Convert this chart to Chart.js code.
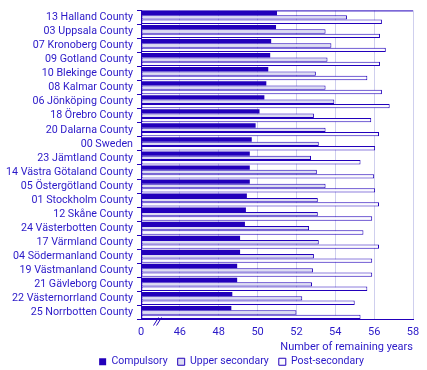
<!DOCTYPE html>
<html><head><meta charset="utf-8">
<script src="https://cdn.jsdelivr.net/npm/chart.js@4/dist/chart.umd.min.js"></script>
<style>html,body{margin:0;padding:0;background:#fff}#wrap{width:427px;height:370px}</style>
</head><body><div id="wrap"><canvas id="c" width="427" height="370"></canvas></div>
<script>
const categories = ["13 Halland County","03 Uppsala County","07 Kronoberg County","09 Gotland County","10 Blekinge County","08 Kalmar County","06 Jönköping County","18 Örebro County","20 Dalarna County","00 Sweden","23 Jämtland County","14 Västra Götaland County","05 Östergötland County","01 Stockholm County","12 Skåne County","24 Västerbotten County","17 Värmland County","04 Södermanland County","19 Västmanland County","21 Gävleborg County","22 Västernorrland County","25 Norrbotten County"];
const compulsory = [51.0,50.95,50.7,50.65,50.55,50.45,50.35,50.1,49.9,49.7,49.6,49.6,49.6,49.45,49.4,49.35,49.1,49.1,48.95,48.95,48.7,48.65];
const upperSecondary = [54.6,53.5,53.8,53.6,53.0,53.5,53.95,52.9,53.5,53.15,52.75,53.05,53.5,53.1,53.1,52.65,53.15,52.9,52.85,52.8,52.3,52.0];
const postSecondary = [56.4,56.3,56.6,56.3,55.65,56.4,56.8,55.85,56.25,56.05,55.3,56.0,56.05,56.25,55.9,55.45,56.25,55.9,55.9,55.65,55.0,55.3];
const seriesNames = ["Compulsory","Upper secondary","Post-secondary"];
const axisMin = 44, axisMax = 58, axisStep = 2;
const breakLabel = "0";
const xTitle = "Number of remaining years";

const BLUE = '#2200BB';
const TXT = '#2a18c8';
const GRID = '#cfcfee';

const framePlugin = {
  id: 'frame',
  afterLayout(chart) {
    const lg = chart.legend;
    if (lg) { lg.left += 25; lg.right += 25; }
  },
  afterDraw(chart) {
    const {ctx, chartArea: a, scales: {x}} = chart;
    ctx.save();
    ctx.strokeStyle = BLUE; ctx.lineWidth = 1;
    ctx.beginPath(); ctx.moveTo(a.left, a.top + 0.5); ctx.lineTo(a.right, a.top + 0.5); ctx.stroke();
    const bx = x.getPixelForValue(axisMin + 0.85);
    const by = a.bottom;
    for (const d of [-1.5, 1.5]) {
      ctx.beginPath(); ctx.moveTo(bx + d - 2.5, by + 6); ctx.lineTo(bx + d + 2.5, by - 2); ctx.stroke();
    }
    ctx.restore();
  }
};

new Chart(document.getElementById('c'), {
  type: 'bar',
  data: {
    labels: categories,
    datasets: [
      {label: seriesNames[0], data: compulsory, base: axisMin, backgroundColor: BLUE, borderColor: BLUE, borderWidth: 0},
      {label: seriesNames[1], data: upperSecondary, base: axisMin, backgroundColor: '#dcdcf2', borderColor: BLUE, borderWidth: 1, borderSkipped: false},
      {label: seriesNames[2], data: postSecondary, base: axisMin, backgroundColor: '#fbfbff', borderColor: BLUE, borderWidth: 1, borderSkipped: false}
    ]
  },
  options: {
    indexAxis: 'y',
    responsive: false,
    animation: false,
    devicePixelRatio: 1,
    categoryPercentage: 0.93,
    barPercentage: 1.0,
    layout: {padding: {top: 8, right: 14, left: 0, bottom: -7}},
    font: {family: 'Roboto'},
    scales: {
      x: {
        min: axisMin, max: axisMax,
        ticks: {stepSize: axisStep, color: TXT, font: {family: 'Roboto', size: 11}, padding: 6,
          callback: (v) => v === axisMin ? breakLabel : String(v)},
        grid: {color: GRID, drawTicks: false},
        border: {color: BLUE},
        title: {display: true, text: xTitle, align: 'end', color: TXT, font: {family: 'Roboto', size: 11}, padding: {top: 1, bottom: -7}},
        afterFit(s) { s.height = 27; }
      },
      y: {
        ticks: {color: TXT, font: {family: 'Roboto', size: 10.7}, padding: 4, autoSkip: false},
        grid: {offset: true, drawOnChartArea: false, tickLength: 4, color: BLUE},
        border: {color: BLUE},
        afterFit(s) { s.width = 141; }
      }
    },
    plugins: {
      legend: {
        position: 'bottom',
        labels: {color: TXT, font: {family: 'Roboto', size: 10.5}, boxWidth: 7, boxHeight: 7, padding: 10}
      },
      tooltip: {enabled: false}
    }
  },
  plugins: [framePlugin]
});
</script></body></html>
